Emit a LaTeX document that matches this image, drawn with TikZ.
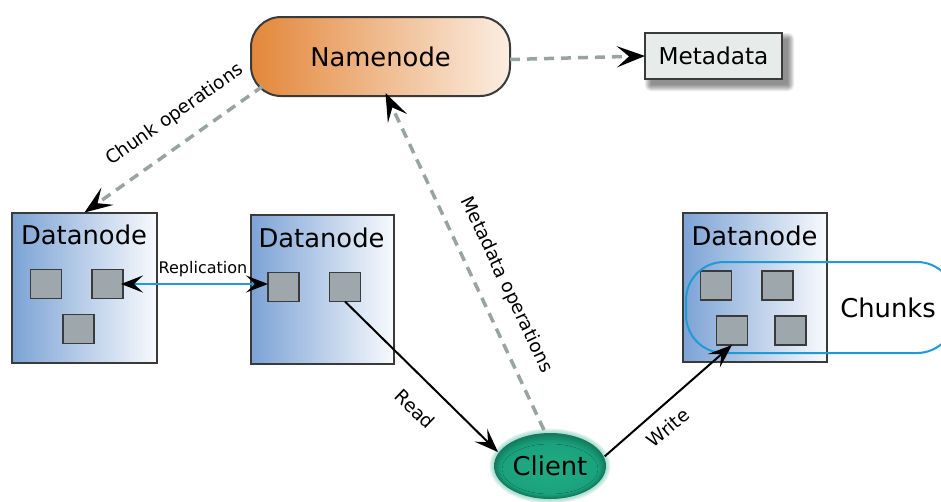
\documentclass[tikz,border=0pt]{standalone}
\usepackage{fontspec}
\setmainfont{DejaVu Sans}
\usetikzlibrary{arrows.meta,calc,shapes.geometric}

\definecolor{nameL}{HTML}{E3873A}
\definecolor{nameR}{HTML}{FBEEE2}
\definecolor{dataL}{HTML}{7CA3D5}
\definecolor{dataR}{HTML}{F8FAFD}
\definecolor{chunkfill}{HTML}{9EA7AB}
\definecolor{edge}{HTML}{3A3A3A}
\definecolor{opgray}{HTML}{98A3A2}
\definecolor{replblue}{HTML}{1E9AD6}
\definecolor{metafill}{HTML}{E7ECEB}
\definecolor{clientdark}{HTML}{127A5D}
\definecolor{clientmid}{HTML}{1AA27D}
\definecolor{clientlight}{HTML}{21AC86}

\begin{document}
\begin{tikzpicture}[x=1pt,y=-1pt,
  every node/.style={inner sep=0pt, outer sep=0pt},
  bigtext/.style={font=\fontsize{25.8}{30}\selectfont},
  smalltext/.style={font=\fontsize{18.5}{22}\selectfont},
  datanodebox/.style={draw=edge, line width=2pt, left color=dataL, right color=dataR,
    minimum width=145pt, minimum height=150pt},
  chunkbox/.style={draw=edge, line width=1.3pt, fill=chunkfill,
    minimum width=31pt, minimum height=29pt},
  flowline/.style={draw=black, line width=2pt,
    -{Stealth[length=24pt,width=18pt,inset=10pt]}},
  opsline/.style={draw=opgray, line width=3.5pt, dash pattern=on 10pt off 7pt,
    -{Stealth[length=28pt,width=21pt,inset=12pt,color=black]}},
  replline/.style={draw=replblue, line width=2.5pt,
    >={Stealth[length=22pt,width=17pt,inset=9pt,color=black]}, <->}
]
\useasboundingbox (0,0) rectangle (941,501);

% ---------- Namenode ----------
\node[draw=edge, line width=2pt, rounded corners=30pt, left color=nameL, right color=nameR,
      minimum width=259pt, minimum height=79pt, bigtext] (namenode) at (380.5,56.5) {Namenode};

% ---------- Metadata with soft shadow ----------
\foreach \k in {0,...,6}
  \fill[black, opacity=0.08, rounded corners=\k pt] ({651-\k},{39-\k}) rectangle ({788+\k},{85+\k});
\node[draw=edge, line width=1.8pt, fill=metafill, minimum width=137pt, minimum height=46pt,
      font=\fontsize{23.2}{27}\selectfont] (metadata) at (713.5,56) {Metadata};

% ---------- Datanodes ----------
\node[datanodebox] (dn1) at (84.5,287.5) {};
\node[bigtext, anchor=base] (dn1label) at (84,244) {Datanode};
\node[chunkbox] (c11) at (46,284) {};
\node[chunkbox] (c12) at (107.5,284) {};
\node[chunkbox] (c13) at (78.5,329) {};

\node[datanodebox, minimum width=143pt, minimum height=149pt] (dn2) at (322.5,289.5) {};
\node[bigtext, anchor=base] (dn2label) at (321.5,247) {Datanode};
\node[chunkbox] (c21) at (283.5,287) {};
\node[chunkbox] (c22) at (345,287) {};

\node[datanodebox, minimum width=144pt, minimum height=149pt] (dn3) at (755,287.5) {};
\node[bigtext, anchor=base] (dn3label) at (754.5,245) {Datanode};
\node[chunkbox] (c31) at (716,285.5) {};
\node[chunkbox] (c32) at (777.5,285.5) {};
\node[chunkbox] (c33) at (732,330.5) {};
\node[chunkbox] (c34) at (790.5,330.5) {};

% ---------- Chunks group ----------
\node[draw=replblue, line width=2pt, rounded corners=38pt,
      minimum width=269pt, minimum height=91pt] (chunkgroup) at (820.5,307.5) {};
\node[bigtext, anchor=base] (chunkslabel) at (888,317) {Chunks};

% ---------- Client: soft glow, dark rim, teal body ----------
\foreach \k in {1,...,5}
  \fill[clientmid!55!white, opacity=0.2] (550,466) ellipse ({55.5+\k} and {32.5+\k});
\foreach \k/\c in {0/0,1/15,2/30,3/45,4/60,5/75,6/90,7/100}
  \fill[clientmid!\c!clientdark] (550,{466+0.4*\k}) ellipse ({56-\k} and {33-\k});
\fill[inner color=clientlight, outer color=clientmid] (550,469) ellipse (48 and 25);
\node[ellipse, minimum width=114pt, minimum height=68pt, bigtext] (client) at (550,466) {Client};

% ---------- Connectors ----------
\draw[opsline] ($(namenode.east)+(0,3)$) -- (metadata.west);
\draw[opsline] ($(namenode.south west)+(12,-10)$) -- (dn1.north);
\draw[opsline] ($(client.north)+(-6,-2)$) -- ($(namenode.south)+(5,-3)$);
\draw[replline] ($(c12.east)+(-2,0)$) -- ($(c21.west)+(0,-3)$);
\draw[flowline] (c22.south) -- (client.165);
\draw[flowline] (client.10) -- (c33.south);

% ---------- Connector labels ----------
\node[font=\fontsize{16}{19}\selectfont, anchor=base] (repllabel) at (203,273) {Replication};
\node[smalltext, rotate=35] (chunkops) at (175,115) {Chunk operations};
\node[smalltext, rotate=-64.7] (metaops) at (506,285) {Metadata operations};
\node[smalltext, rotate=-44] (readlabel) at (415,409) {Read};
\node[smalltext, rotate=40] (writelabel) at (668,428) {Write};
\end{tikzpicture}
\end{document}
